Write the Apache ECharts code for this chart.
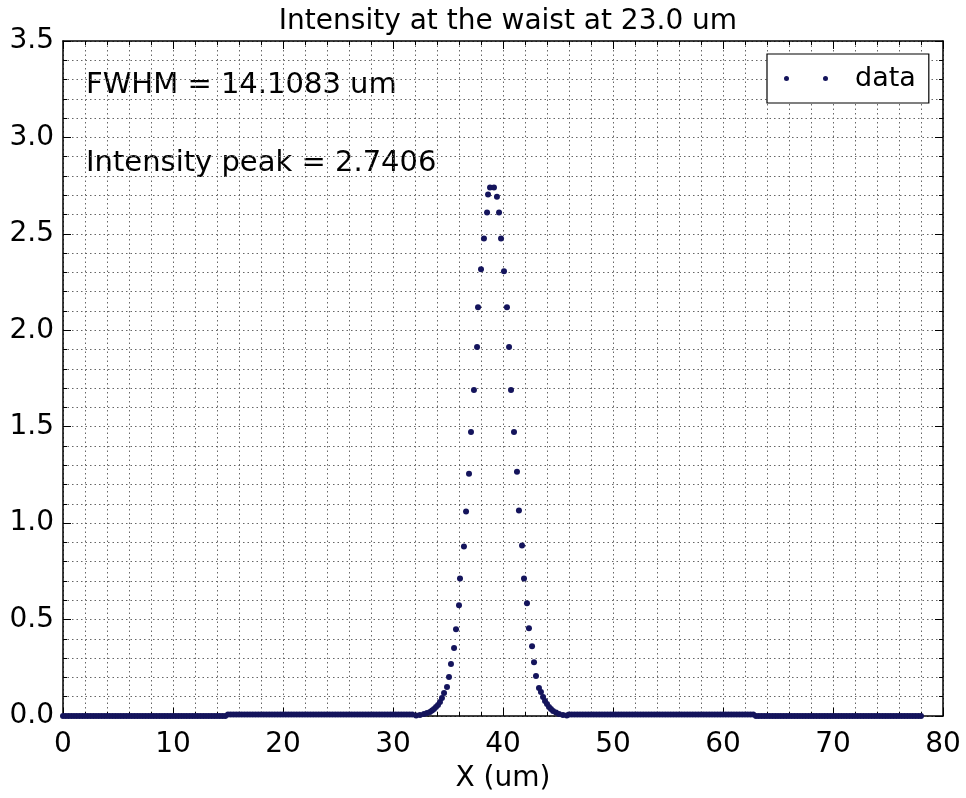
<!DOCTYPE html>
<html>
<head>
<meta charset="utf-8">
<script src="https://cdn.jsdelivr.net/npm/echarts@6/dist/echarts.min.js"></script>
<style>
html,body{margin:0;padding:0;background:#fff;}
#chart{width:966px;height:798px;}
</style>
</head>
<body>
<div id="chart"></div>
<script>
// ---- data ----
const titleText = 'Intensity at the waist at 23.0 um';
const xAxisName = 'X (um)';
const seriesName = 'data';
const fwhmText = 'FWHM = 14.1083 um';
const peakText = 'Intensity peak = 2.7406';

// flat baseline samples (um) and their values
const outerLeftX = [0,0.25,0.5,0.75,1,1.25,1.5,1.75,2,2.25,2.5,2.75,3,3.25,3.5,3.75,4,4.25,4.5,4.75,5,5.25,5.5,5.75,6,6.25,6.5,6.75,7,7.25,7.5,7.75,
  8,8.25,8.5,8.75,9,9.25,9.5,9.75,10,10.25,10.5,10.75,11,11.25,11.5,11.75,12,12.25,12.5,12.75,13,13.25,13.5,13.75,14,14.25,14.5,14.75];
const outerLeftY = [0,0,0,0,0,0,0,0,0,0,0,0,0,0,0,0,0,0,0,0,0,0,0,0,0,0,0,0,0,0,0,0,
  0,0,0,0,0,0,0,0,0,0,0,0,0,0,0,0,0,0,0,0,0,0,0,0,0,0,0,0];
const midLeftX = [15,15.25,15.5,15.75,16,16.25,16.5,16.75,17,17.25,17.5,17.75,18,18.25,18.5,18.75,19,19.25,19.5,19.75,20,20.25,20.5,20.75,21,21.25,21.5,21.75,22,22.25,22.5,22.75,23,23.25,
  23.5,23.75,24,24.25,24.5,24.75,25,25.25,25.5,25.75,26,26.25,26.5,26.75,27,27.25,27.5,27.75,28,28.25,28.5,28.75,29,29.25,29.5,29.75,30,30.25,30.5,30.75,31,31.25,31.5,31.75];
const midLeftY = [0.008,0.008,0.008,0.008,0.008,0.008,0.008,0.008,0.008,0.008,0.008,0.008,0.008,0.008,0.008,0.008,0.008,0.008,0.008,0.008,0.008,0.008,0.008,0.008,0.008,0.008,0.008,0.008,0.008,0.008,0.008,0.008,0.008,0.008,
  0.008,0.008,0.008,0.008,0.008,0.008,0.008,0.008,0.008,0.008,0.008,0.008,0.008,0.008,0.008,0.008,0.008,0.008,0.008,0.008,0.008,0.008,0.008,0.008,0.008,0.008,0.008,0.008,0.008,0.008,0.008,0.008,0.008,0.008];
const midRightX = [46,46.25,46.5,46.75,47,47.25,47.5,47.75,48,48.25,48.5,48.75,49,49.25,49.5,49.75,50,50.25,50.5,50.75,51,51.25,51.5,51.75,52,52.25,52.5,52.75,53,53.25,53.5,53.75,54,54.25,
  54.5,54.75,55,55.25,55.5,55.75,56,56.25,56.5,56.75,57,57.25,57.5,57.75,58,58.25,58.5,58.75,59,59.25,59.5,59.75,60,60.25,60.5,60.75,61,61.25,61.5,61.75,62,62.25,62.5,62.75];
const midRightY = [0.008,0.008,0.008,0.008,0.008,0.008,0.008,0.008,0.008,0.008,0.008,0.008,0.008,0.008,0.008,0.008,0.008,0.008,0.008,0.008,0.008,0.008,0.008,0.008,0.008,0.008,0.008,0.008,0.008,0.008,0.008,0.008,0.008,0.008,
  0.008,0.008,0.008,0.008,0.008,0.008,0.008,0.008,0.008,0.008,0.008,0.008,0.008,0.008,0.008,0.008,0.008,0.008,0.008,0.008,0.008,0.008,0.008,0.008,0.008,0.008,0.008,0.008,0.008,0.008,0.008,0.008,0.008,0.008];
const outerRightX = [63,63.25,63.5,63.75,64,64.25,64.5,64.75,65,65.25,65.5,65.75,66,66.25,66.5,66.75,67,67.25,67.5,67.75,68,68.25,68.5,68.75,69,69.25,69.5,69.75,70,70.25,70.5,
  70.75,71,71.25,71.5,71.75,72,72.25,72.5,72.75,73,73.25,73.5,73.75,74,74.25,74.5,74.75,75,75.25,75.5,75.75,76,76.25,76.5,76.75,77,77.25,77.5,77.75,78];
const outerRightY = [0,0,0,0,0,0,0,0,0,0,0,0,0,0,0,0,0,0,0,0,0,0,0,0,0,0,0,0,0,0,0,
  0,0,0,0,0,0,0,0,0,0,0,0,0,0,0,0,0,0,0,0,0,0,0,0,0,0,0,0,0,0];

// peak samples
const peakX = [32.1,32.45,32.82,33.09,33.36,33.55,33.73,33.91,34.09,34.27,34.45,34.64,34.91,35.09,35.27,35.55,35.73,36.0,36.09,36.45,36.64,36.91,37.09,37.36,37.64,37.73,38.0,38.27,38.55,38.64,38.82,
  39.18,39.45,39.64,39.82,40.09,40.36,40.55,40.73,41.0,41.27,41.45,41.73,41.91,42.18,42.36,42.64,42.82,43.0,43.27,43.45,43.64,43.82,44.0,44.18,44.36,44.55,44.82,45.09,45.45,45.8];
const peakY = [0.003,0.005,0.010,0.016,0.021,0.028,0.036,0.047,0.057,0.072,0.093,0.119,0.150,0.202,0.269,0.352,0.450,0.574,0.713,0.879,1.060,1.256,1.473,1.690,1.913,2.120,2.316,2.476,2.611,2.704,2.7406,
  2.7406,2.693,2.611,2.476,2.306,2.120,1.913,1.690,1.473,1.267,1.065,0.884,0.713,0.584,0.455,0.362,0.279,0.207,0.145,0.124,0.098,0.078,0.062,0.047,0.036,0.026,0.018,0.010,0.005,0.003];

const xMin = 0, xMax = 80, xStep = 10;
const yMin = 0, yMax = 3.5, yStep = 0.5;

// ---- build ----
const pts = [];
[[outerLeftX,outerLeftY],[midLeftX,midLeftY],[peakX,peakY],[midRightX,midRightY],[outerRightX,outerRightY]]
  .forEach(([xs,ys])=>xs.forEach((x,i)=>pts.push([x, ys[i]])));

const FONT = 'DejaVu Sans';
const dotColor = '#14145c';
const gridLine = {show:true, lineStyle:{color:'#666', type:[1.5,3], width:1}};

const chart = echarts.init(document.getElementById('chart'), null, {renderer:'canvas'});

function mkX(pos, labels){
  return {
    type:'value', position:pos, min:xMin, max:xMax, interval:xStep,
    axisLine:{show:true, onZero:false, lineStyle:{color:'#000', width:1.5}},
    axisTick:{show:true, inside:true, length:8, lineStyle:{color:'#000', width:1}},
    minorTick:{show:true, splitNumber:5, length:4, lineStyle:{color:'#000', width:1}},
    axisLabel:{show:labels, fontFamily:FONT, fontSize:28, color:'#000', margin:15},
    splitLine: labels ? gridLine : {show:false},
    minorSplitLine: labels ? gridLine : {show:false},
    name: labels ? xAxisName : '', nameLocation:'middle', nameGap:49,
    nameTextStyle:{fontFamily:FONT, fontSize:28, color:'#000'}
  };
}
function mkY(pos, labels){
  return {
    type:'value', position:pos, min:yMin, max:yMax, interval:yStep,
    axisLine:{show:true, onZero:false, lineStyle:{color:'#000', width:1.5}},
    axisTick:{show:true, inside:true, length:8, lineStyle:{color:'#000', width:1}},
    minorTick:{show:true, splitNumber:5, length:4, lineStyle:{color:'#000', width:1}},
    axisLabel:{show:labels, fontFamily:FONT, fontSize:28, color:'#000', margin:9,
      formatter:v=>v.toFixed(1)},
    splitLine: labels ? gridLine : {show:false},
    minorSplitLine: labels ? gridLine : {show:false}
  };
}

chart.setOption({
  animation:false,
  backgroundColor:'#fff',
  title:{text:titleText, left:503, textAlign:'center', top:3,
    textStyle:{fontFamily:FONT, fontSize:28, fontWeight:'normal', color:'#000'}},
  grid:{left:63, right:23, top:41, bottom:80, containLabel:false},
  xAxis:[mkX('bottom', true), mkX('top', false)],
  yAxis:[mkY('left', true), mkY('right', false)],
  legend:{
    show:true, left:767, top:54, orient:'horizontal',
    backgroundColor:'#fff', borderColor:'#000', borderWidth:1.2, borderRadius:0,
    padding:[11,13,11,17],
    itemWidth:44, itemHeight:5,
    icon:'path://M0,2.5a2.5,2.5 0 1,0 5,0a2.5,2.5 0 1,0 -5,0M39,2.5a2.5,2.5 0 1,0 5,0a2.5,2.5 0 1,0 -5,0',
    textStyle:{fontFamily:FONT, fontSize:27, color:'#000', padding:[0,0,0,22]},
    data:[{name:seriesName, itemStyle:{color:dotColor}}]
  },
  graphic:[
    {type:'text', left:86, top:71, style:{text:fwhmText, font:'29px "DejaVu Sans"', fill:'#000'}},
    {type:'text', left:86, top:149, style:{text:peakText, font:'29px "DejaVu Sans"', fill:'#000'}}
  ],
  series:[{
    name:seriesName, type:'scatter', xAxisIndex:0, yAxisIndex:0,
    symbol:'circle', symbolSize:6, clip:true,
    itemStyle:{color:dotColor, opacity:1},
    data:pts, z:5
  }]
});
</script>
</body>
</html>
